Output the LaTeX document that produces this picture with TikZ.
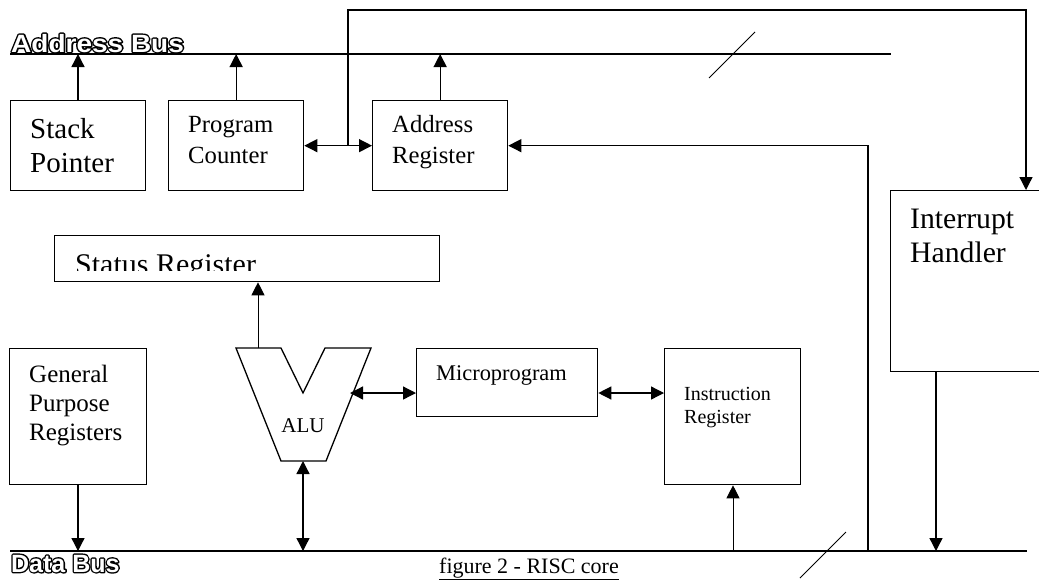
\documentclass[tikz,border=0pt]{standalone}
\usepackage{fontspec}
\setmainfont{Liberation Serif}
\newfontfamily\busfont{Liberation Sans}
\usetikzlibrary{arrows.meta,calc}
\newcommand\fsz[1]{\fontsize{#1}{#1}\selectfont}
\newcommand\outlinetxt[1]{%
  \rlap{\special{pdf:literal direct q 2 Tr 2.8 w 0 g 0 G 1 j}#1\special{pdf:literal direct Q}}%
  \special{pdf:literal direct q 0 Tr 1 g}#1\special{pdf:literal direct Q}}
\tikzset{
  box/.style={draw, line width=1.3pt, inner sep=0pt, anchor=north west},
  lbl/.style={inner sep=0pt, anchor=base west},
  wire/.style={line width=1.3pt},
  thinwire/.style={line width=1pt},
  tip/.tip={Triangle[length=13pt,width=13pt]},
  arr/.style={wire, -tip},
  darr/.style={wire, tip-tip},
  busfnt/.style={font=\busfont\bfseries\fsz{25}},
}
\begin{document}
\begin{tikzpicture}[x=1pt,y=-1pt]
\useasboundingbox (0,0) rectangle (1039,582);
\clip (0,0) rectangle (1039,582);

% buses
\coordinate (ab0) at (10,54);
\coordinate (ab1) at (891,54);
\coordinate (db0) at (10,551);
\coordinate (db1) at (1027,551);
\draw[wire] (ab0) -- (ab1);
\draw[wire] (db0) -- (db1);
\coordinate (as0) at (709,78); \coordinate (as1) at (755,32);
\draw[thinwire] (as0) -- (as1);
\coordinate (ds0) at (800,578); \coordinate (ds1) at (846,532);
\draw[thinwire] (ds0) -- (ds1);
\node[lbl, busfnt, xscale=1.12] (abl) at (11,52) {\outlinetxt{Address Bus}};
\node[lbl, busfnt] (dbl) at (11,572) {\outlinetxt{Data Bus}};

% boxes
\node[box, minimum width=135pt, minimum height=90pt] (sp) at (10,100) {};
\node[lbl, font=\fsz{29}] (sp1) at (30,138) {Stack};
\node[lbl, font=\fsz{29}] (sp2) at (30,172) {Pointer};

\node[box, minimum width=135pt, minimum height=90pt] (pc) at (168,100) {};
\node[lbl, font=\fsz{24.7}] (pc1) at (188,132) {Program};
\node[lbl, font=\fsz{24.7}] (pc2) at (188,163) {Counter};

\node[box, minimum width=135pt, minimum height=90pt] (ar) at (372,100) {};
\node[lbl, font=\fsz{24.7}] (ar1) at (392,132) {Address};
\node[lbl, font=\fsz{24.7}] (ar2) at (392,163) {Register};

\node[box, minimum width=160pt, minimum height=181pt] (ih) at (890,190) {};
\node[lbl, font=\fsz{29.7}] (ih1) at (910,228) {Interrupt};
\node[lbl, font=\fsz{29.7}] (ih2) at (910,262) {Handler};

\node[box, minimum width=385pt, minimum height=46pt] (st) at (54,235) {};
\begin{scope}
  \clip (54,235) rectangle (439,270.5);
  \node[lbl, font=\fsz{30}] (st1) at (75,274) {Status Register};
\end{scope}

\node[box, minimum width=137pt, minimum height=136pt] (gp) at (9,348) {};
\node[lbl, font=\fsz{25}] (gp1) at (29,382) {General};
\node[lbl, font=\fsz{25}] (gp2) at (29,411) {Purpose};
\node[lbl, font=\fsz{25}] (gp3) at (29,440) {Registers};

\node[box, minimum width=181pt, minimum height=68pt] (mp) at (416,348) {};
\node[lbl, font=\fsz{22.4}] (mp1) at (436,380) {Microprogram};

\node[box, minimum width=136pt, minimum height=136pt] (ir) at (664,348) {};
\node[lbl, font=\fsz{20}] (ir1) at (684,400) {Instruction};
\node[lbl, font=\fsz{20}] (ir2) at (684,423) {Register};

% ALU
\draw[line width=1.3pt] (236,348) -- (281,348) -- (303,393) -- (325,348) -- (371,348)
  -- (326,461) -- (281,461) -- cycle;
\node[lbl, font=\fsz{21}, anchor=base] (alu) at (303,432) {ALU};
\coordinate (alutop) at (258,348);
\coordinate (alubot) at (303,461);
\coordinate (aluright) at (350,393);

% connectors to address bus
\draw[arr] (sp.north -| 78,0) -- (ab0 -| 78,0);
\draw[arr] (pc.north) -- (pc.north |- ab0);
\draw[arr] (ar.north) -- (ar.north |- ab0);

% PC <-> AR and interrupt line
\coordinate (j1) at (348,145);
\coordinate (topy) at (0,10);
\coordinate (ihin) at (1026,190);
\draw[darr] (pc.east) -- (ar.west);
\draw[arr] (j1) -- (j1 |- topy) -| (ihin);

% feedback from data bus to AR
\coordinate (fb) at (868,551);
\draw[arr] (fb) |- (ar.east);

% status
\draw[arr, thinwire] (alutop) -- (alutop |- st.south);

% ALU <-> Microprogram <-> IR
\draw[darr] (aluright) -- (aluright -| mp.west);
\draw[darr] (mp.east |- aluright) -- (ir.west |- aluright);

% data bus connectors
\draw[arr] (gp.south -| 78,0) -- (db0 -| 78,0);
\draw[darr] (alubot) -- (alubot |- db0);
\draw[arr, thinwire] (db0 -| 733,0) -- (ir.south -| 733,0);
\draw[arr] (ih.south -| 936,0) -- (db0 -| 936,0);

% caption
\node[lbl, font=\fsz{22}] (cap) at (439,573) {\underline{figure 2 - RISC core}};
\end{tikzpicture}
\end{document}
